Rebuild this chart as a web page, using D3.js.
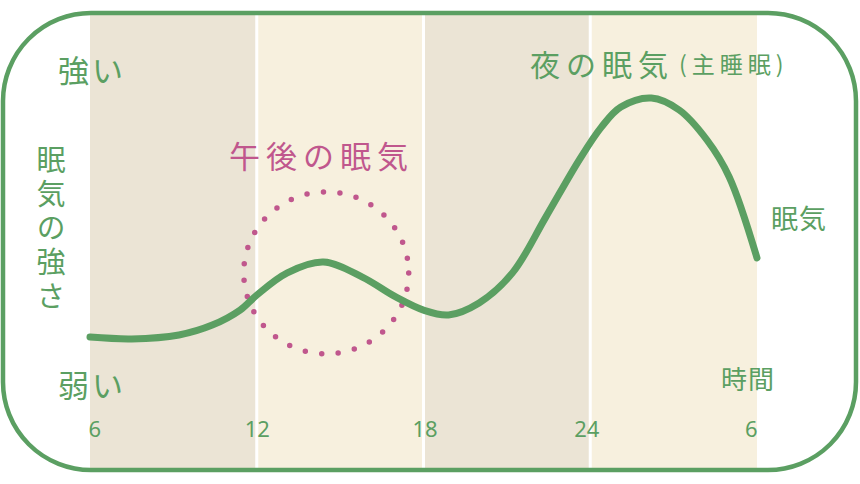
<!DOCTYPE html>
<html>
<head>
<meta charset="utf-8">
<script src="https://cdn.jsdelivr.net/npm/d3@7"></script>
<style>
  body { margin: 0; background: #fff; }
  text { font-family: "Noto Sans CJK JP", "Noto Sans", sans-serif; }
</style>
</head>
<body>
<div id="chart"></div>
<script>
// time of day (hours, 30 = 6 next morning) and sleepiness level (0-100)
var hours = [6, 7.5, 9.2, 10.4, 11.4, 12, 13.1, 14.4, 15.8, 17, 18, 18.9, 20, 21.2, 22.4, 23.6, 24.4, 25.1, 26.2, 27.2, 28.2, 29, 30];
var sleepiness = [14.3, 13.7, 15, 18.3, 23.3, 28.3, 35.7, 39.3, 34.3, 27.7, 23.3, 21.7, 25.7, 35.7, 54.3, 73.3, 84.3, 91, 94, 90, 80, 67.7, 40.7];

var bandStarts = [6, 12, 18, 24];
var tickValues = [6, 12, 18, 24, 30];
var tickLabels = ['6', '12', '18', '24', '6'];

// afternoon dip, marked with a dotted ring
var napHour = 14.5;
var napLevel = 35.7;

var width = 860,
    height = 484,
    green = '#5b9f62',
    pink = '#c0578d';

var svg = d3.select('#chart')
    .append('svg')
    .attr('width', width)
    .attr('height', height);

var x = d3.scaleLinear().domain([6, 30]).range([90, 757]);
var y = d3.scaleLinear().domain([0, 100]).range([380, 80]);

// background bands
svg.selectAll('rect.band')
    .data(bandStarts)
    .enter()
    .append('rect')
    .attr('class', 'band')
    .attr('x', function (d) { return x(d); })
    .attr('y', 14)
    .attr('width', function (d) { return x(d + 6) - x(d); })
    .attr('height', 456)
    .attr('fill', function (d, i) { return i % 2 ? '#f7f0de' : '#ebe4d5'; });

svg.selectAll('line.sep')
    .data(bandStarts.slice(1))
    .enter()
    .append('line')
    .attr('class', 'sep')
    .attr('x1', function (d) { return x(d); })
    .attr('x2', function (d) { return x(d); })
    .attr('y1', 14)
    .attr('y2', 470)
    .attr('stroke', '#fff')
    .attr('stroke-width', 3);

// frame
svg.append('rect')
    .attr('x', 3)
    .attr('y', 13)
    .attr('width', 853)
    .attr('height', 457)
    .attr('rx', 88)
    .attr('fill', 'none')
    .attr('stroke', green)
    .attr('stroke-width', 4.5);

// x axis
var axis = d3.axisBottom(x)
    .tickValues(tickValues)
    .tickFormat(function (d, i) { return tickLabels[i]; })
    .tickSize(0)
    .tickPadding(0);

var gAxis = svg.append('g')
    .attr('transform', 'translate(0,437)')
    .call(axis);
gAxis.select('.domain').remove();
gAxis.selectAll('text')
    .attr('y', 0)
    .attr('dy', 0)
    .attr('fill', green)
    .style('font-family', '"Noto Sans", sans-serif')
    .style('font-size', '22px')
    .attr('text-anchor', function (d, i) {
        return i === 0 ? 'start' : (i === tickValues.length - 1 ? 'end' : 'middle');
    })
    .attr('dx', function (d, i) { return i === 0 ? -2 : (i === 2 ? 1 : (i === 3 ? -4 : 0)); });

// dotted ring
svg.append('ellipse')
    .attr('cx', x(napHour))
    .attr('cy', y(napLevel))
    .attr('rx', 82.5)
    .attr('ry', 81)
    .attr('fill', 'none')
    .attr('stroke', pink)
    .attr('stroke-width', 5.5)
    .attr('stroke-linecap', 'round')
    .attr('stroke-dasharray', '0 16.6');

// sleepiness curve
var line = d3.line()
    .x(function (d) { return x(d[0]); })
    .y(function (d) { return y(d[1]); })
    .curve(d3.curveCatmullRom.alpha(0.5));

svg.append('path')
    .datum(d3.zip(hours, sleepiness))
    .attr('d', line)
    .attr('fill', 'none')
    .attr('stroke', green)
    .attr('stroke-width', 7)
    .attr('stroke-linecap', 'round');

// labels
var label = function (txt, px, py, size, color, spacing) {
    return svg.append('text')
        .attr('x', px)
        .attr('y', py)
        .attr('fill', color)
        .style('font-size', size + 'px')
        .style('letter-spacing', (spacing || 0) + 'px')
        .text(txt);
};

label('強い', 58, 82, 31, green, 3);
label('弱い', 58, 397, 31, green, 3);
label('時間', 721, 389, 26, green, 1);
label('眠気', 771, 229, 27, green, 1);
label('午後の眠気', 229, 168, 31, pink, 6);
label('夜の眠気', 530, 76, 30, green, 6);
label('(主睡眠)', 679, 73, 23, green, 5);

// vertical axis title
svg.append('text')
    .attr('x', 51)
    .attr('y', 145)
    .attr('fill', green)
    .style('font-size', '29px')
    .style('writing-mode', 'vertical-rl')
    .style('letter-spacing', '5px')
    .text('眠気の強さ');
</script>
</body>
</html>
